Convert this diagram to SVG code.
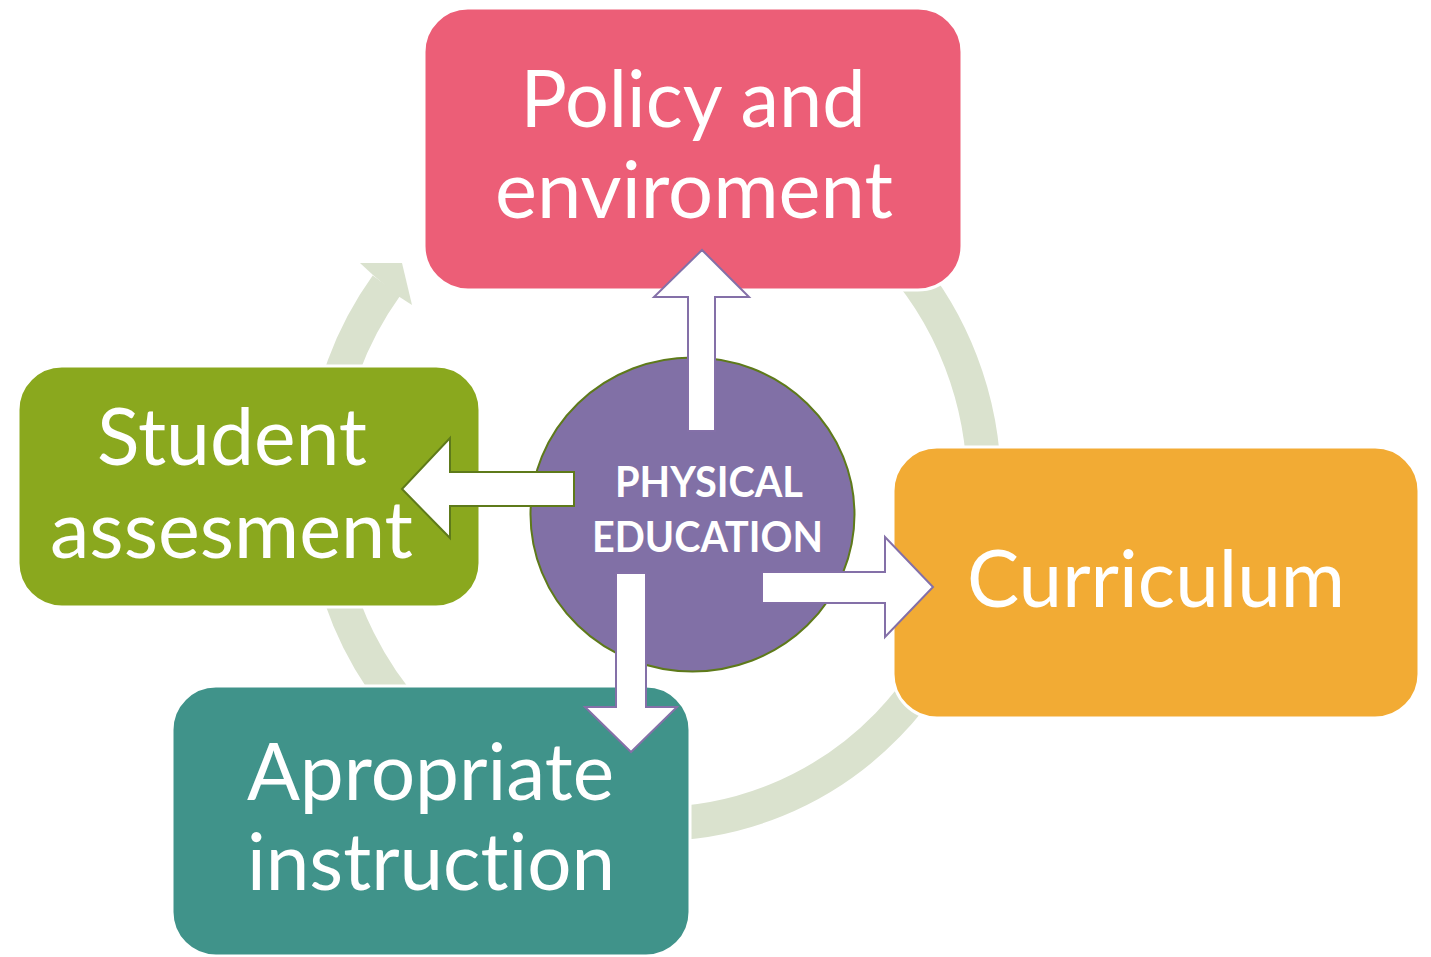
<svg xmlns="http://www.w3.org/2000/svg" width="1431" height="957" viewBox="0 0 1431 957">
  <defs>
    <style>
      .ring { fill: none; stroke: #DAE2CE; stroke-width: 34; }
      .ringhead { fill: #DAE2CE; }
      .box { stroke: #FFFFFF; stroke-width: 3; }
      .label { font-family: Lato, "Liberation Sans", sans-serif; font-size: 80px; fill: #FFFFFF; text-anchor: middle; font-variant-ligatures: none; font-feature-settings: "liga" 0, "clig" 0; }
      .hub { font-family: Lato, "Liberation Sans", sans-serif; font-weight: bold; font-size: 42px; fill: #FFFFFF; text-anchor: middle; font-variant-ligatures: none; font-feature-settings: "liga" 0, "clig" 0; }
      .arrow-p { fill: #FFFFFF; stroke: #8470A8; stroke-width: 2; stroke-linejoin: miter; }
      .arrow-g { fill: #FFFFFF; stroke: #5E7A1A; stroke-width: 2; stroke-linejoin: miter; }
    </style>
  </defs>

  <!-- cycle ring behind the nodes -->
  <g id="cycle">
    <path class="ring" d="M 655 148 A 329 338 0 0 1 655 824 A 329 338 0 0 1 386.5 285.5"/>
    <polygon class="ringhead" points="360,263 402,263 412,305 398,296 373,275"/>
  </g>

  <g id="node-policy">
    <rect class="box" x="424" y="8" width="538" height="282" rx="44" ry="44" fill="#EC5E77"/>
    <text class="label" x="693" y="127" textLength="345" lengthAdjust="spacingAndGlyphs">Policy and</text>
    <text class="label" x="694" y="218" textLength="398" lengthAdjust="spacingAndGlyphs">enviroment</text>
  </g>

  <g id="node-assessment">
    <rect class="box" x="18" y="366" width="462" height="241" rx="44" ry="44" fill="#8AA81E"/>
    <text class="label" x="232" y="465" textLength="270" lengthAdjust="spacingAndGlyphs">Student</text>
    <text class="label" x="231.5" y="558" textLength="363" lengthAdjust="spacingAndGlyphs">assesment</text>
  </g>

  <g id="node-curriculum">
    <rect class="box" x="893" y="447" width="526" height="271" rx="44" ry="44" fill="#F2AB34"/>
    <text class="label" x="1156" y="607" textLength="378" lengthAdjust="spacingAndGlyphs">Curriculum</text>
  </g>

  <g id="node-instruction">
    <rect class="box" x="172" y="686" width="518" height="270" rx="44" ry="44" fill="#40938A"/>
    <text class="label" x="430.5" y="800" textLength="367" lengthAdjust="spacingAndGlyphs">Apropriate</text>
    <text class="label" x="431" y="890" textLength="368" lengthAdjust="spacingAndGlyphs">instruction</text>
  </g>

  <g id="node-hub">
    <ellipse cx="692.5" cy="514.5" rx="162" ry="157" fill="#8170A6" stroke="#5E7A1A" stroke-width="2"/>
  </g>

  <!-- block arrows from the hub out to each node -->
  <g id="connectors">
    <polygon class="arrow-p" points="688,431 688,297 654,297 702,250 749,297 715,297 715,431"/>
    <polygon class="arrow-g" points="574,472 450,472 450,438 402,489 450,538 450,506 574,506"/>
    <polygon class="arrow-p" points="762,572 885,572 885,537 933,587 885,637 885,603 762,603"/>
    <polygon class="arrow-p" points="616,573 616,707 585,707 631,752 677,707 646,707 646,573"/>
  </g>

  <g id="hub-label">
    <text class="hub" x="709" y="497" textLength="188" lengthAdjust="spacingAndGlyphs">PHYSICAL</text>
    <text class="hub" x="707.5" y="552" textLength="231" lengthAdjust="spacingAndGlyphs">EDUCATION</text>
  </g>
</svg>
